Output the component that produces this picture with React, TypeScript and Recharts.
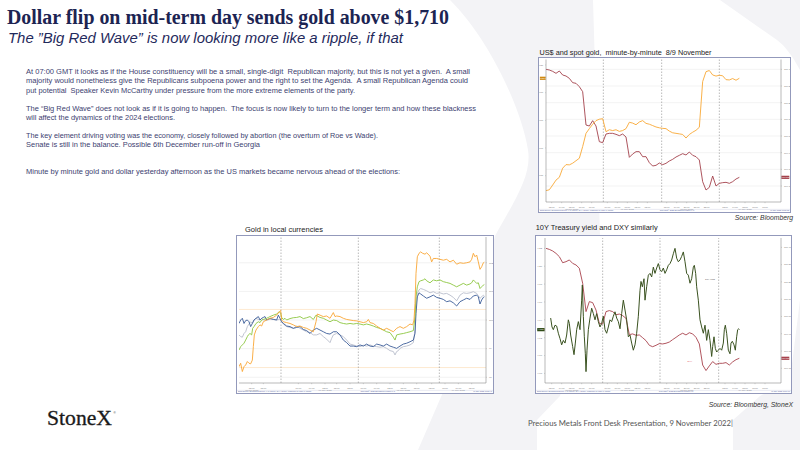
import React from "react";
import { ComposedChart, Line, XAxis, YAxis, ReferenceLine, CartesianGrid, ReferenceDot } from "recharts";

// ---------- Chart 1: US$ (DXY) and spot gold, minute-by-minute ----------
const c1Gold = [1674.6, 1674.9, 1676.6, 1678.4, 1679.4, 1682.7, 1684.0, 1683.9, 1684.5, 1685.4, 1686.3, 1690.5, 1695.3, 1697.0, 1698.6, 1699.9, 1700.4, 1700.6, 1695.9, 1696.6, 1696.3, 1696.6, 1696.0, 1696.3, 1697.0, 1699.3, 1699.0, 1698.4, 1699.4, 1699.9, 1698.9, 1698.6, 1698.1, 1697.6, 1697.3, 1697.1, 1697.0, 1696.1, 1695.5, 1695.3, 1695.1, 1694.9, 1693.6, 1694.9, 1695.7, 1696.4, 1697.5, 1714.0, 1717.6, 1718.0, 1716.4, 1716.0, 1716.3, 1716.1, 1714.7, 1714.6, 1715.1, 1714.5, 1715.2];
const c1Dxy = [110.400, 110.396, 110.388, 110.376, 110.390, 110.366, 110.360, 110.346, 110.320, 110.316, 110.296, 110.266, 110.066, 110.060, 110.092, 110.060, 109.966, 109.960, 110.012, 110.016, 110.016, 110.010, 110.002, 110.012, 109.994, 109.872, 109.892, 109.906, 109.906, 109.876, 109.876, 109.840, 109.820, 109.824, 109.838, 109.828, 109.836, 109.850, 109.860, 109.874, 109.884, 109.894, 109.886, 109.904, 109.884, 109.876, 109.856, 109.726, 109.676, 109.692, 109.760, 109.700, 109.716, 109.720, 109.722, 109.716, 109.726, 109.742, 109.752];
const goldTicks = [1680, 1690, 1700, 1710, 1720];
const dxyTicks = [109.7, 109.8, 109.9, 110.0, 110.1, 110.2, 110.3, 110.4];
const sessionBreaks1 = [17.2, 34.7, 52.0];

// ---------- Chart 3: 10Y Treasury yield and DXY ----------
const c3Dxy = [110.394, 110.388, 110.379, 110.365, 110.346, 110.311, 110.317, 110.327, 110.307, 110.298, 110.279, 110.192, 110.028, 110.086, 110.080, 110.037, 109.960, 109.956, 110.028, 110.034, 110.028, 110.010, 110.014, 110.005, 109.989, 109.895, 109.899, 109.891, 109.893, 109.877, 109.860, 109.833, 109.825, 109.833, 109.843, 109.841, 109.845, 109.852, 109.866, 109.879, 109.893, 109.903, 109.893, 109.906, 109.899, 109.879, 109.841, 109.719, 109.687, 109.714, 109.739, 109.723, 109.729, 109.729, 109.733, 109.719, 109.737, 109.750, 109.758];
const c3Yield: [number, number][] = [[1.4, 4.142], [1.8, 4.132], [2.2, 4.129], [2.7, 4.134], [3.2, 4.133], [3.7, 4.125], [4.2, 4.119], [4.7, 4.112], [5.2, 4.117], [5.7, 4.114], [6.2, 4.123], [6.7, 4.140], [7.0, 4.136], [7.4, 4.123], [8.0, 4.110], [8.4, 4.101], [8.8, 4.114], [9.2, 4.129], [9.7, 4.138], [10.2, 4.129], [10.7, 4.162], [10.9, 4.179], [11.2, 4.144], [11.5, 4.121], [11.8, 4.102], [12.0, 4.082], [12.3, 4.106], [12.7, 4.129], [13.2, 4.142], [13.7, 4.153], [14.2, 4.147], [14.7, 4.140], [15.2, 4.147], [15.7, 4.138], [16.2, 4.132], [16.7, 4.136], [17.2, 4.144], [17.7, 4.129], [18.2, 4.125], [18.7, 4.132], [19.2, 4.140], [19.7, 4.138], [20.2, 4.144], [20.7, 4.149], [21.2, 4.142], [21.7, 4.138], [22.2, 4.130], [22.7, 4.147], [23.2, 4.162], [23.7, 4.151], [24.2, 4.140], [24.7, 4.121], [25.2, 4.123], [25.7, 4.114], [26.2, 4.106], [26.7, 4.112], [27.2, 4.125], [27.7, 4.144], [28.2, 4.173], [28.5, 4.183], [28.9, 4.177], [29.4, 4.186], [29.7, 4.162], [30.2, 4.177], [30.7, 4.190], [31.2, 4.192], [31.7, 4.188], [32.2, 4.199], [32.7, 4.192], [33.2, 4.198], [33.7, 4.203], [34.2, 4.196], [34.7, 4.194], [35.2, 4.198], [35.7, 4.192], [36.2, 4.196], [36.7, 4.201], [37.2, 4.203], [37.7, 4.207], [38.2, 4.214], [38.7, 4.220], [39.2, 4.209], [39.7, 4.205], [40.2, 4.207], [40.7, 4.211], [41.2, 4.216], [41.7, 4.205], [42.2, 4.192], [42.7, 4.190], [43.2, 4.181], [43.7, 4.186], [44.2, 4.199], [44.5, 4.201], [44.9, 4.192], [45.2, 4.177], [45.7, 4.162], [46.2, 4.140], [46.7, 4.132], [47.2, 4.125], [47.7, 4.134], [48.2, 4.117], [48.7, 4.129], [49.2, 4.117], [49.7, 4.099], [50.0, 4.110], [50.4, 4.121], [50.8, 4.108], [51.2, 4.104], [51.7, 4.106], [52.2, 4.108], [52.7, 4.106], [53.2, 4.114], [53.5, 4.129], [53.8, 4.134], [54.2, 4.125], [54.7, 4.106], [55.2, 4.102], [55.5, 4.114], [55.9, 4.116], [56.4, 4.112], [56.8, 4.106], [57.2, 4.121], [57.5, 4.129], [57.8, 4.130], [58.0, 4.129]];
const yieldTicks = [4.08, 4.10, 4.12, 4.14, 4.16, 4.18, 4.20, 4.22];
const sessionBreaks3 = [17.0, 34.2, 51.8];

// ---------- Chart 2: Gold in local currencies (rebased) ----------
const goldUsd: [number, number][] = [[0, 98.37], [0.5, 98.49], [1, 98.20], [1.5, 98.37], [2, 98.43], [2.5, 98.55], [3, 98.49], [3.5, 98.47], [4, 98.60], [4.3, 99.07], [4.6, 99.48], [5.1, 99.65], [5.8, 99.77], [6.3, 99.83], [6.8, 99.79], [7.3, 99.94], [8.3, 100.00], [9.3, 100.06], [10.3, 100.09], [11.3, 100.17], [12.1, 100.29], [12.5, 100.33], [12.8, 100.00], [13.3, 99.94], [14.3, 99.91], [15.3, 99.88], [16.3, 99.83], [17.3, 99.77], [18.3, 99.79], [19.3, 99.74], [20.3, 99.71], [21.3, 99.65], [22.3, 99.59], [23.1, 99.94], [23.5, 100.21], [24.3, 100.17], [25.3, 100.12], [26.3, 100.14], [27.3, 100.06], [28.3, 100.26], [28.8, 100.12], [29.3, 100.14], [30.3, 100.12], [31.3, 100.06], [32.3, 100.02], [33.3, 100.00], [34.3, 99.98], [35.3, 99.97], [36.3, 99.94], [37.3, 99.91], [38.3, 99.94], [38.8, 100.02], [39.3, 99.91], [40.3, 99.88], [41.3, 99.79], [42.3, 99.71], [43.3, 99.65], [44.3, 99.71], [45.3, 99.65], [46.3, 99.59], [46.8, 99.65], [47.3, 99.71], [47.8, 99.74], [48.3, 99.77], [49.3, 99.71], [50.3, 99.77], [51.3, 99.86], [52.1, 99.83], [52.5, 100.00], [52.8, 100.58], [53.1, 101.63], [53.5, 102.21], [54.0, 102.33], [54.5, 102.38], [55.1, 102.33], [55.8, 102.30], [56.3, 102.35], [57.3, 102.23], [57.8, 102.03], [58.3, 102.15], [59.3, 102.15], [60.3, 102.12], [61.3, 102.09], [62.3, 102.12], [63.3, 102.03], [64.3, 102.09], [65.3, 101.95], [66.3, 102.00], [67.3, 101.98], [68.3, 102.00], [69.3, 102.03], [69.8, 102.12], [70.3, 102.33], [70.8, 102.21], [71.3, 102.27], [71.8, 102.03], [72.3, 101.77], [72.8, 101.86], [73.3, 102.00], [73.6, 102.02]];
const goldGreen: [number, number][] = [[0, 98.95], [0.5, 99.07], [1, 99.13], [1.5, 99.19], [2, 99.30], [2.5, 99.42], [2.8, 99.48], [3.3, 99.53], [3.8, 99.48], [4.1, 99.71], [4.5, 99.77], [5.1, 99.88], [5.8, 99.94], [6.3, 99.91], [6.8, 100.00], [7.3, 100.02], [8.3, 100.06], [8.8, 100.09], [9.3, 100.12], [10.3, 100.17], [11.3, 100.21], [12.1, 100.29], [12.5, 100.23], [12.8, 100.09], [13.3, 100.02], [13.8, 100.06], [14.3, 100.00], [15.3, 100.05], [16.3, 100.08], [17.3, 100.09], [18.3, 100.12], [19.3, 100.05], [20.3, 100.08], [21.3, 100.12], [22.3, 100.02], [23.1, 100.17], [23.5, 100.14], [24.3, 100.09], [25.3, 100.06], [26.3, 100.00], [27.3, 99.94], [28.3, 100.00], [29.3, 99.98], [30.3, 99.91], [31.3, 99.88], [32.3, 99.86], [33.3, 99.88], [34.3, 99.86], [35.3, 99.88], [36.3, 99.86], [37.3, 99.83], [38.3, 99.86], [39.3, 99.83], [40.3, 99.79], [41.3, 99.74], [42.3, 99.71], [43.3, 99.65], [44.3, 99.59], [45.3, 99.56], [46.3, 99.40], [46.8, 99.30], [47.3, 99.48], [48.3, 99.51], [49.3, 99.53], [50.3, 99.56], [51.3, 99.59], [52.3, 99.63], [52.8, 100.12], [53.1, 100.81], [53.5, 101.16], [54.0, 101.34], [54.5, 101.37], [55.3, 101.40], [55.8, 101.44], [56.3, 101.37], [57.3, 101.30], [58.3, 101.40], [59.3, 101.37], [60.3, 101.40], [61.3, 101.34], [62.3, 101.31], [63.3, 101.28], [64.3, 101.22], [65.3, 101.16], [66.3, 101.22], [67.3, 101.28], [68.3, 101.22], [69.3, 101.26], [69.8, 101.30], [70.3, 101.40], [70.8, 101.34], [71.3, 101.28], [71.8, 101.30], [72.3, 101.10], [72.8, 101.16], [73.3, 101.22], [73.6, 101.24]];
const goldSilver: [number, number][] = [[0, 99.48], [0.5, 99.42], [1, 99.40], [1.5, 99.53], [2, 99.59], [2.5, 99.77], [3, 99.86], [3.5, 99.94], [4, 99.88], [4.5, 100.00], [5.1, 100.06], [5.8, 100.02], [6.3, 100.00], [6.8, 100.06], [7.3, 100.00], [8.3, 100.00], [9.3, 100.02], [10.3, 100.03], [11.3, 100.00], [12.1, 100.02], [12.5, 100.00], [12.8, 99.94], [13.3, 99.86], [14.3, 99.77], [15.3, 99.74], [16.3, 99.71], [17.3, 99.79], [18.3, 99.71], [19.3, 99.65], [20.3, 99.59], [21.3, 99.56], [22.3, 99.48], [23.3, 99.48], [24.3, 99.53], [25.3, 99.42], [26.3, 99.33], [27.3, 99.21], [27.8, 99.36], [28.3, 99.48], [29.3, 99.53], [30.3, 99.48], [31.3, 99.42], [32.3, 99.30], [33.3, 99.16], [34.3, 99.13], [35.3, 99.09], [36.3, 99.07], [37.3, 99.12], [38.3, 99.09], [39.3, 99.13], [40.3, 99.09], [41.3, 99.07], [42.3, 99.05], [43.3, 99.07], [44.3, 99.01], [45.3, 98.93], [46.3, 98.90], [46.8, 98.78], [47.3, 98.90], [47.8, 98.93], [48.3, 99.01], [49.3, 99.07], [50.3, 99.09], [51.3, 99.13], [52.3, 99.21], [52.8, 99.65], [53.1, 100.47], [53.5, 100.93], [54.0, 101.05], [54.5, 101.10], [55.3, 101.07], [56.3, 101.02], [57.3, 100.95], [58.3, 100.99], [59.3, 100.93], [60.3, 100.95], [61.3, 100.91], [62.3, 100.93], [63.3, 100.87], [64.3, 100.79], [65.3, 100.67], [66.3, 100.87], [67.3, 100.95], [68.3, 100.93], [69.3, 100.95], [70.3, 100.99], [71.3, 100.93], [72.3, 100.76], [72.8, 100.81], [73.3, 100.87], [73.6, 100.84]];
const goldBlue: [number, number][] = [[0, 99.88], [0.5, 100.00], [1, 100.06], [1.5, 99.88], [2, 99.98], [2.5, 100.00], [3, 99.94], [3.5, 99.77], [4, 99.88], [4.5, 100.00], [5.1, 100.06], [5.8, 100.12], [6.3, 100.00], [6.8, 100.06], [7.3, 100.09], [7.8, 100.12], [8.3, 100.00], [9.3, 100.06], [10.3, 100.02], [11.3, 100.00], [11.8, 100.17], [12.3, 100.06], [12.8, 99.94], [13.3, 99.88], [14.3, 99.79], [15.3, 99.77], [16.3, 99.71], [17.3, 99.74], [18.3, 99.77], [19.3, 99.67], [20.3, 99.63], [21.3, 99.53], [22.3, 99.65], [23.3, 99.71], [24.3, 99.65], [25.3, 99.59], [26.3, 99.53], [27.3, 99.51], [28.3, 99.59], [29.3, 99.59], [30.3, 99.48], [31.3, 99.30], [32.3, 99.21], [33.3, 99.09], [34.3, 99.09], [35.3, 99.07], [36.3, 99.13], [37.3, 99.09], [38.3, 99.16], [39.3, 99.09], [40.3, 99.07], [41.3, 99.16], [42.3, 99.13], [43.3, 99.09], [44.3, 99.16], [45.3, 99.09], [46.3, 99.05], [47.3, 99.01], [48.3, 99.09], [49.3, 99.16], [50.3, 99.19], [51.3, 99.24], [52.3, 99.30], [52.8, 99.53], [53.1, 100.23], [53.5, 100.81], [54.0, 100.95], [54.5, 100.91], [55.3, 100.84], [56.3, 100.76], [57.3, 100.81], [58.3, 100.87], [59.3, 100.79], [60.3, 100.76], [61.3, 100.72], [62.3, 100.64], [63.3, 100.67], [64.3, 100.60], [65.3, 100.49], [66.3, 100.64], [67.3, 100.70], [68.3, 100.76], [69.3, 100.72], [70.3, 100.84], [71.3, 100.87], [71.8, 100.81], [72.3, 100.56], [72.8, 100.70], [73.3, 100.79], [73.6, 100.81]];
const indexTicks = [98, 99, 100, 101, 102];
const indexBands = [100.37, 98.34];
const sessionBreaks2 = [12.6, 35.8, 60.1];

// ---------- tick labels ----------
const timeTicks13 = [1.7, 4.7, 7.7, 10.7, 13.7, 18.4, 21.4, 24.4, 27.4, 30.4, 36.2, 39.2, 42.2, 45.2, 48.2, 53.7, 56.7, 59.7, 62.7, 65.7];
const timeLabels13 = ["13:00", "14:00", "15:00", "16:00", "17:00", "09:00", "10:00", "11:00", "12:00", "13:00", "18:00", "19:00", "20:00", "21:00", "22:00", "03:00", "04:00", "05:00", "06:00", "07:00"];
const dateTicks13: Record<string, string> = { "7.7": "08 Nov 2022", "24.4": "07 Nov 2022", "42.2": "08 Nov 2022", "59.7": "09 Nov 2022" };
const timeTicks2 = [3.8, 7.3, 17.8, 21.8, 25.8, 29.3, 33.3, 37.3, 41.3, 45.3, 49.3, 53.3, 57.8, 61.8, 65.8, 69.8];
const timeLabels2 = ["12:00", "18:00", "06:00", "09:00", "12:00", "15:00", "18:00", "06:00", "09:00", "12:00", "15:00", "18:00", "03:00", "06:00", "09:00", "12:00"];
const dateTicks2: Record<string, string> = { "3.8": "08 Nov 2022", "25.8": "07 Nov 2022", "49.3": "08 Nov 2022", "65.8": "09 Nov 2022" };

const FONT = "Liberation Sans, Arial, sans-serif";

const bodyLines = [
  { y: 74, w: 444, s: "At 07:00 GMT it looks as if the House constituency will be a small, single-digit  Republican majority, but this is not yet a given.  A small" },
  { y: 83, w: 442, s: "majority would nonetheless give the Republicans subpoena power and the right to set the Agenda.  A small Republican Agenda could" },
  { y: 92.5, w: 329, s: "put potential  Speaker Kevin McCarthy under pressure from the more extreme elements of the party." },
  { y: 110.5, w: 450, s: "The \u201cBig Red Wave\u201d does not look as if it is going to happen.  The focus is now likely to turn to the longer term and how these blackness" },
  { y: 119.5, w: 149, s: "will affect the dynamics of the 2024 elections." },
  { y: 137.5, w: 352, s: "The key element driving voting was the economy, closely followed by abortion (the overturn of Roe vs Wade)." },
  { y: 146.5, w: 234, s: "Senate is still in the balance. Possible 6th December run-off in Georgia" },
  { y: 173.5, w: 374, s: "Minute by minute gold and dollar yesterday afternoon as the US markets became nervous ahead of the elections:" },
];

function makeTick(ticks: number[], labels: string[], dates: Record<string, string>) {
  return (p: any) => {
    const v = p.payload?.value;
    const i = ticks.indexOf(v);
    const d = dates[String(v)];
    return (
      <g>
        <text x={p.x} y={p.y + 2.6} fontSize={2.3} fill="#777" textAnchor="middle" fontFamily={FONT}>{i >= 0 ? labels[i] : ""}</text>
        {d ? <text x={p.x} y={p.y + 5.2} fontSize={2.3} fill="#777" textAnchor="middle" fontFamily={FONT}>{d}</text> : null}
      </g>
    );
  };
}

function Tag(props: any) {
  const { viewBox, side, color, text, w } = props;
  if (!viewBox) return null;
  const { x, y, width } = viewBox;
  const rx = side === "left" ? x - w - 0.3 : x + width + 0.3;
  return (
    <g>
      <rect x={rx} y={y - 1.6} width={w} height={3.2} fill={color} />
      <text x={rx + w / 2} y={y + 0.8} fontSize={2.1} fill="#fff" textAnchor="middle" fontFamily={FONT}>{text}</text>
    </g>
  );
}

function TinyLabel(props: any) {
  const { viewBox, text, color } = props;
  if (!viewBox) return null;
  return <text x={viewBox.cx ?? viewBox.x} y={viewBox.cy ?? viewBox.y} fontSize={2.4} fill={color} textAnchor="middle" fontFamily={FONT}>{text}</text>;
}

function Frame(props: { left: number; top: number; width: number; height: number; children: React.ReactNode; stamp: string }) {
  const { left, top, width, height, children, stamp } = props;
  return (
    <div style={{ position: "absolute", left, top, width, height, background: "#fff", outline: "1px solid #9399bb" }}>
      {children}
      <svg width={width} height={height} style={{ position: "absolute", left: 0, top: 0, pointerEvents: "none" }}>
        <line x1={0} x2={width} y1={height - 2.6} y2={height - 2.6} stroke="#c9cde0" strokeWidth={0.4} />
        <text x={1} y={height - 0.7} fontSize={1.9} fill="#5565a3" fontFamily={FONT}>Data Source: Bloomberg Select: XAU Curncy, DXY Curncy, USGG10YR Index 1 Minute</text>
        <text x={width * 0.55} y={height - 0.7} fontSize={1.9} fill="#5565a3" textAnchor="middle" fontFamily={FONT}>Copyright© 2022 Bloomberg Finance L.P.</text>
        <text x={width - 1} y={height - 0.7} fontSize={1.9} fill="#5565a3" textAnchor="end" fontFamily={FONT}>{stamp}</text>
      </svg>
    </div>
  );
}

const axisLine = { stroke: "#8a8a8a", strokeWidth: 0.6 };
const tickStyle = { fontSize: 2.4, fill: "#777", fontFamily: FONT };
const tickStyleSmall = { fontSize: 2.0, fill: "#777", fontFamily: FONT };

function Chart1() {
  const data = c1Gold.map((g, i) => ({ t: i, gold: g, dxy: c1Dxy[i] }));
  const lastGold = c1Gold[c1Gold.length - 1];
  const lastDxy = c1Dxy[c1Dxy.length - 1];
  return (
    <ComposedChart width={251} height={154} data={data} margin={{ top: 1.5, right: 0, bottom: 0, left: 0 }}>
      <CartesianGrid yAxisId="dxy" vertical={false} stroke="#e6e6e6" strokeWidth={0.5} horizontalValues={dxyTicks} />
      <XAxis dataKey="t" type="number" domain={[0, 70.5]} allowDataOverflow ticks={timeTicks13} interval={0} height={10} axisLine={axisLine} tickLine={{ stroke: "#999", strokeWidth: 0.4 }} tickSize={1.2} tick={makeTick(timeTicks13, timeLabels13, dateTicks13)} />
      <XAxis xAxisId="top" orientation="top" dataKey="t" type="number" domain={[0, 70.5]} height={0} tick={false} tickLine={false} axisLine={{ stroke: "#bbb", strokeWidth: 0.4 }} />
      <YAxis yAxisId="gold" orientation="left" width={7} domain={[1670.48, 1721.99]} allowDataOverflow ticks={goldTicks} interval={0} axisLine={axisLine} tickLine={{ stroke: "#999", strokeWidth: 0.4 }} tickSize={0.8} tick={tickStyleSmall} tickFormatter={(v: number) => v.toLocaleString("en-US")} />
      <YAxis yAxisId="dxy" orientation="right" width={9} domain={[109.604, 110.459]} allowDataOverflow ticks={dxyTicks} interval={0} axisLine={axisLine} tickLine={{ stroke: "#999", strokeWidth: 0.4 }} tickSize={1} tick={tickStyle} tickFormatter={(v: number) => v.toFixed(2)} />
      {sessionBreaks1.map((x) => (
        <ReferenceLine key={x} x={x} yAxisId="dxy" stroke="#8c8c8c" strokeWidth={0.6} strokeDasharray="1.5 1.5" />
      ))}
      <Line yAxisId="dxy" dataKey="dxy" stroke="#a4424c" strokeWidth={0.9} dot={false} isAnimationActive={false} />
      <Line yAxisId="gold" dataKey="gold" stroke="#f8a835" strokeWidth={0.9} dot={false} isAnimationActive={false} />
      <ReferenceLine yAxisId="gold" y={lastGold} strokeOpacity={0} label={<Tag side="left" w={5.8} color="#d08a12" text={lastGold.toFixed(1)} />} />
      <ReferenceLine yAxisId="dxy" y={lastDxy} strokeOpacity={0} label={<Tag side="right" w={8} color="#a4424c" text={lastDxy.toFixed(3)} />} />
    </ComposedChart>
  );
}

function Chart3() {
  const dxyData = c3Dxy.map((v, i) => ({ t: i, v }));
  const yData = c3Yield.map(([t, v]) => ({ t, v }));
  const lastY = c3Yield[c3Yield.length - 1][1];
  const lastD = c3Dxy[c3Dxy.length - 1];
  return (
    <ComposedChart width={255} height={157} margin={{ top: 2, right: 0, bottom: 0, left: 0 }}>
      <XAxis dataKey="t" type="number" domain={[-0.3, 70.5]} allowDataOverflow ticks={timeTicks13} interval={0} height={10} axisLine={axisLine} tickLine={{ stroke: "#999", strokeWidth: 0.4 }} tickSize={1.2} tick={makeTick(timeTicks13, timeLabels13, dateTicks13)} />
      <XAxis xAxisId="top" orientation="top" dataKey="t" type="number" domain={[-0.3, 70.5]} height={0} tick={false} tickLine={false} axisLine={{ stroke: "#bbb", strokeWidth: 0.4 }} />
      <YAxis yAxisId="y" orientation="left" width={9} domain={[4.0693, 4.2316]} allowDataOverflow ticks={yieldTicks} interval={0} axisLine={axisLine} tickLine={{ stroke: "#999", strokeWidth: 0.4 }} tickSize={1} tick={tickStyle} tickFormatter={(v: number) => v.toFixed(2)} />
      <YAxis yAxisId="dxy" orientation="right" width={10} domain={[109.615, 110.454]} allowDataOverflow ticks={dxyTicks} interval={0} axisLine={axisLine} tickLine={{ stroke: "#999", strokeWidth: 0.4 }} tickSize={1} tick={tickStyle} tickFormatter={(v: number) => v.toFixed(2)} />
      {sessionBreaks3.map((x) => (
        <ReferenceLine key={x} x={x} yAxisId="dxy" stroke="#8c8c8c" strokeWidth={0.6} strokeDasharray="1.5 1.5" />
      ))}
      <Line yAxisId="dxy" data={dxyData} dataKey="v" stroke="#a8434d" strokeWidth={0.9} dot={false} isAnimationActive={false} />
      <Line yAxisId="y" data={yData} dataKey="v" stroke="#3a5220" strokeWidth={1} dot={false} isAnimationActive={false} />
      <ReferenceDot yAxisId="y" x={49.2} y={4.1846} r={0} fill="none" stroke="none" label={<TinyLabel text="10Y yield" color="#444" />} />
      <ReferenceDot yAxisId="dxy" x={43.2} y={109.735} r={0} fill="none" stroke="none" label={<TinyLabel text="DXY" color="#e05050" />} />
      <ReferenceLine yAxisId="y" y={lastY} strokeOpacity={0} label={<Tag side="left" w={7.5} color="#2f4a16" text={lastY.toFixed(3)} />} />
      <ReferenceLine yAxisId="dxy" y={lastD} strokeOpacity={0} label={<Tag side="right" w={8} color="#a8434d" text={lastD.toFixed(3)} />} />
    </ComposedChart>
  );
}

function Chart2() {
  const toRows = (arr: [number, number][]) => arr.map(([t, v]) => ({ t, v }));
  return (
    <ComposedChart width={256} height={157} margin={{ top: 1, right: 0, bottom: 0, left: 2 }}>
      <CartesianGrid yAxisId="r" vertical={false} stroke="#e4e4e4" strokeWidth={0.5} horizontalValues={indexTicks} />
      <XAxis dataKey="t" type="number" domain={[0, 74.1]} allowDataOverflow ticks={timeTicks2} interval={0} height={10} axisLine={axisLine} tickLine={{ stroke: "#999", strokeWidth: 0.4 }} tickSize={1.2} tick={makeTick(timeTicks2, timeLabels2, dateTicks2)} />
      <XAxis xAxisId="top" orientation="top" dataKey="t" type="number" domain={[0, 74.1]} height={0} tick={false} tickLine={false} axisLine={{ stroke: "#bbb", strokeWidth: 0.4 }} />
      <YAxis yAxisId="l" orientation="left" width={0} domain={[97.8, 102.9]} tick={false} tickLine={false} axisLine={axisLine} />
      <YAxis yAxisId="r" orientation="right" width={7} domain={[97.8, 102.9]} allowDataOverflow ticks={indexTicks} interval={0} axisLine={axisLine} tickLine={{ stroke: "#999", strokeWidth: 0.4 }} tickSize={1} tick={tickStyle} />
      {indexBands.map((y) => (
        <ReferenceLine key={y} yAxisId="r" y={y} stroke="#fde3c4" strokeWidth={0.8} />
      ))}
      {sessionBreaks2.map((x) => (
        <ReferenceLine key={x} x={x} yAxisId="r" stroke="#8c8c8c" strokeWidth={0.6} strokeDasharray="1.5 1.5" />
      ))}
      <Line yAxisId="r" data={toRows(goldSilver)} dataKey="v" stroke="#b9bdcc" strokeWidth={0.9} dot={false} isAnimationActive={false} />
      <Line yAxisId="r" data={toRows(goldBlue)} dataKey="v" stroke="#3a5b97" strokeWidth={0.9} dot={false} isAnimationActive={false} />
      <Line yAxisId="r" data={toRows(goldGreen)} dataKey="v" stroke="#8cc63f" strokeWidth={0.9} dot={false} isAnimationActive={false} />
      <Line yAxisId="r" data={toRows(goldUsd)} dataKey="v" stroke="#f9a634" strokeWidth={0.9} dot={false} isAnimationActive={false} />
    </ComposedChart>
  );
}

export default function App() {
  return (
    <div style={{ position: "fixed", left: 0, top: 0, width: 800, height: 450, background: "#fff", overflow: "hidden" }}>
      <svg width={800} height={450} style={{ position: "absolute", left: 0, top: 0 }}>
        <path d="M450,0 L593,0 L600,236 L560,396 L537,420 L537,450 L418,450 L470,330 L495,236 C515,200 532,175 528,150 C522,110 490,40 450,0 Z" fill="#f3f3f6" />
        <path d="M720,0 L800,0 L800,70 C792,55 785,46 777,40 Z" fill="#f3f3f6" />
        <path d="M800,300 L800,450 L733,450 L733,420 L760,396 L790,380 Z" fill="#f3f3f6" />
        <text x={7} y={23.5} fontFamily="Liberation Serif, Times New Roman, serif" fontWeight="bold" fontSize={20.5} fill="#1c2452" textLength={442} lengthAdjust="spacingAndGlyphs">Dollar flip on mid-term day sends gold above $1,710</text>
        <text x={8} y={43} fontFamily={FONT} fontStyle="italic" fontSize={15} fill="#1f2a5c" textLength={395} lengthAdjust="spacingAndGlyphs">The {"\u201d"}Big Red Wave{"\u201d"} is now looking more like a ripple, if that</text>
        {bodyLines.map((l) => (
          <text key={l.y} x={26} y={l.y} fontFamily={FONT} fontSize={6.8} fill="#3d4270" textLength={l.w} lengthAdjust="spacingAndGlyphs" style={{ whiteSpace: "pre" }}>{l.s}</text>
        ))}
        <text x={539.5} y={55.3} fontFamily={FONT} fontSize={7.6} fill="#222" textLength={172} lengthAdjust="spacingAndGlyphs" style={{ whiteSpace: "pre" }}>US$ and spot gold,  minute-by-minute  8/9 November</text>
        <text x={793} y={220} fontFamily={FONT} fontStyle="italic" fontSize={6.8} fill="#333" textAnchor="end">Source:  Bloomberg</text>
        <text x={535.7} y={230.3} fontFamily={FONT} fontSize={7.6} fill="#222" textLength={122} lengthAdjust="spacingAndGlyphs">10Y Treasury yield and DXY similarly</text>
        <text x={245} y={231.8} fontFamily={FONT} fontSize={7.6} fill="#222" textLength={78} lengthAdjust="spacingAndGlyphs">Gold in local currencies</text>
        <text x={793} y={406.5} fontFamily={FONT} fontStyle="italic" fontSize={6.8} fill="#333" textAnchor="end">Source: Bloomberg, StoneX</text>
        <text x={47} y={425} fontFamily="Liberation Serif, Times New Roman, serif" fontSize={20} fill="#1a1a1a" textLength={65} lengthAdjust="spacingAndGlyphs" stroke="#1a1a1a" strokeWidth={0.3}>StoneX</text>
        <text x={113.5} y={414} fontFamily={FONT} fontSize={3} fill="#1a1a1a">®</text>
        <text x={528} y={425.5} fontFamily="Lato, Open Sans, sans-serif" fontSize={8.4} fill="#555" textLength={205} lengthAdjust="spacingAndGlyphs">Precious Metals Front Desk Presentation, 9 November 2022|</text>
      </svg>
      <Frame left={539} top={58} width={251} height={154} stamp="09-Nov-2022 07:21:53">
        <Chart1 />
      </Frame>
      <Frame left={536} top={236} width={255} height={157} stamp="09-Nov-2022 07:24:10">
        <Chart3 />
      </Frame>
      <Frame left={237} top={236} width={256} height={157} stamp="09-Nov-2022 07:20:41">
        <Chart2 />
      </Frame>
    </div>
  );
}
